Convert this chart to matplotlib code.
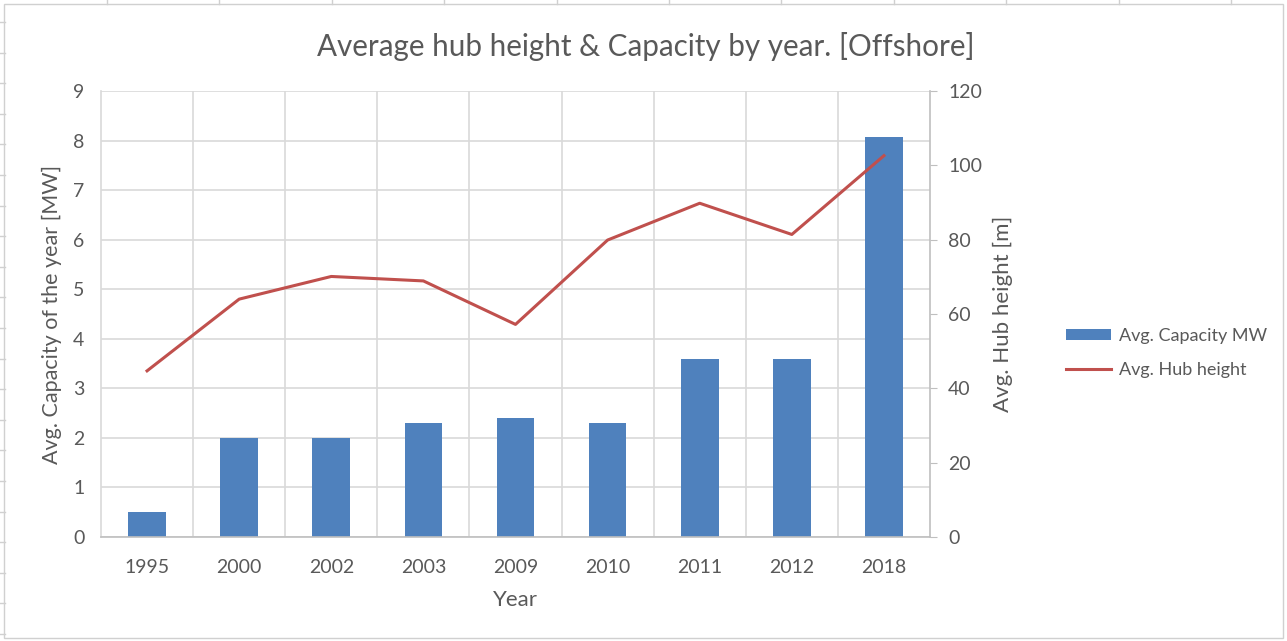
import matplotlib.pyplot as plt
from matplotlib.lines import Line2D
from matplotlib.patches import Rectangle

plt.rcParams['font.family'] = ['Lato', 'DejaVu Sans']

# Offshore turbines: average capacity and hub height per year
years = ["1995", "2000", "2002", "2003", "2009", "2010", "2011", "2012", "2018"]
capacity_mw = [0.5, 2.0, 2.0, 2.3, 2.4, 2.3, 3.6, 3.6, 8.08]
hub_height_m = [44.7, 64.0, 70.1, 68.9, 57.2, 79.9, 89.8, 81.4, 102.6]

txt = '#595959'
grid = '#D9D9D9'
bar_c = '#4F81BD'
line_c = '#C0504D'

fig = plt.figure(figsize=(12.87, 6.41), dpi=100)

# sheet frame with ruler ticks
fig.patches.append(Rectangle((0.003, 0.004), 0.994, 0.99, transform=fig.transFigure,
                             fill=False, edgecolor='#D0D0D0', lw=1))
for i in range(12):
    x = (107 + i * 112.4) / 1287
    fig.lines.append(Line2D([x, x], [0.994, 1.0], transform=fig.transFigure, color='#D0D0D0', lw=1))
for i in range(21):
    y = 1 - (22 + i * 30.6) / 641
    fig.lines.append(Line2D([0, 0.004], [y, y], transform=fig.transFigure, color='#D0D0D0', lw=1))

ax1 = fig.add_axes([101 / 1287, 1 - 537 / 641, 829 / 1287, 446 / 641])
x = list(range(len(years)))
ax1.bar(x, capacity_mw, width=0.41, color=bar_c, label='Avg. Capacity MW', zorder=2)
ax1.set_xlim(-0.5, len(years) - 0.5)
ax1.set_ylim(0, 9)
ax1.set_yticks(range(0, 10))
ax1.set_xticks(x)
ax1.set_xticklabels(years)
ax1.set_xticks([i + 0.5 for i in range(len(years) - 1)], minor=True)
ax1.set_axisbelow(True)
ax1.grid(True, axis='y', color=grid, lw=1.2)
ax1.grid(True, axis='x', which='minor', color=grid, lw=1.2)
ax1.tick_params(axis='both', which='both', length=0, colors=txt, labelsize=14)
ax1.tick_params(axis='x', pad=16)
ax1.tick_params(axis='y', pad=12)
for s in ['top', 'right']:
    ax1.spines[s].set_visible(False)
ax1.spines['left'].set_color(grid)
ax1.spines['left'].set_linewidth(1.2)
ax1.spines['bottom'].set_color('#BFBFBF')
ax1.spines['bottom'].set_linewidth(1.2)
ax1.set_xlabel('Year', color=txt, fontsize=16, labelpad=10)
ax1.set_ylabel('Avg. Capacity of the year [MW]', color=txt, fontsize=15.5, labelpad=8)

ax2 = ax1.twinx()
ax2.plot(x, hub_height_m, color=line_c, lw=2.2, label='Avg. Hub height', zorder=3)
ax2.set_ylim(0, 120)
ax2.set_yticks(range(0, 121, 20))
ax2.tick_params(axis='y', length=5, color='#BFBFBF', colors=txt, labelsize=14, pad=8)
for s in ['top', 'left', 'bottom']:
    ax2.spines[s].set_visible(False)
ax2.spines['right'].set_color('#BFBFBF')
ax2.spines['right'].set_linewidth(1.2)
ax2.set_ylabel('Avg. Hub height [m]', color=txt, fontsize=16, rotation=90, labelpad=8)

fig.text(0.502, 0.928, 'Average hub height & Capacity by year. [Offshore]',
         ha='center', va='center', color=txt, fontsize=21.3)

h1, l1 = ax1.get_legend_handles_labels()
h2, l2 = ax2.get_legend_handles_labels()
leg = fig.legend(h1 + h2, l1 + l2, loc='center left', bbox_to_anchor=(1050 / 1287, 1 - 353 / 641),
                 frameon=False, fontsize=13, handlelength=2.5, handleheight=0.6,
                 labelspacing=1.0, handletextpad=0.4)
for t in leg.get_texts():
    t.set_color(txt)

fig.savefig('out.png', dpi=100)
